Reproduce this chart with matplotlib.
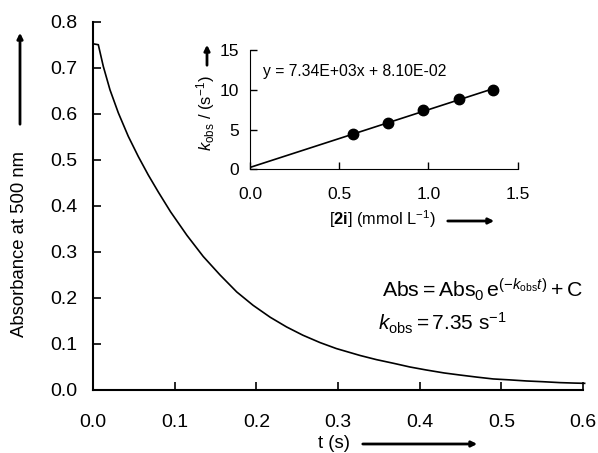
import numpy as np
import matplotlib
matplotlib.use("Agg")
import matplotlib.pyplot as plt

plt.rcParams['font.family'] = ['Liberation Sans', 'DejaVu Sans']
plt.rcParams['mathtext.fontset'] = 'custom'
plt.rcParams['mathtext.rm'] = 'Liberation Sans'
plt.rcParams['mathtext.it'] = 'Liberation Sans:italic'
plt.rcParams['mathtext.bf'] = 'Liberation Sans:bold'

# decay trace
t_s = [0.000, 0.0065, 0.0126, 0.0208, 0.031, 0.0432, 0.0555, 0.0677, 0.080, 0.095,
       0.115, 0.135, 0.1555, 0.176, 0.196, 0.217, 0.237, 0.257, 0.278, 0.298,
       0.327, 0.347, 0.368, 0.388, 0.408, 0.430, 0.449, 0.470, 0.490, 0.510,
       0.531, 0.551, 0.572, 0.590, 0.602]
absorb = [0.752, 0.750, 0.703, 0.652, 0.602, 0.551, 0.507, 0.467, 0.430, 0.387,
          0.336, 0.290, 0.250, 0.213, 0.184, 0.158, 0.137, 0.119, 0.103, 0.090,
          0.075, 0.066, 0.058, 0.050, 0.0435, 0.037, 0.0326, 0.028, 0.024, 0.022,
          0.0196, 0.018, 0.016, 0.015, 0.0145]

# inset: k_obs vs [2i]
conc = [0.579, 0.775, 0.968, 1.173, 1.360]
kobs = [4.40, 5.78, 7.46, 8.80, 10.01]

W, H = 598, 453
fig = plt.figure(figsize=(W / 100, H / 100), dpi=100)

def fx(px):
    return px / W

def fy(py):
    return 1 - py / H

ax = fig.add_axes([fx(93), fy(390), fx(583) - fx(93), fy(21.7) - fy(390)])
ax.plot(t_s, absorb, color='black', lw=1.2, clip_on=False)
ax.set_xlim(0, 0.6)
ax.set_ylim(0, 0.8)
ax.set_xticks(np.arange(0, 0.61, 0.1))
ax.set_yticks(np.arange(0, 0.81, 0.1))
ax.xaxis.set_major_formatter(plt.FormatStrFormatter('%.1f'))
ax.yaxis.set_major_formatter(plt.FormatStrFormatter('%.1f'))
ax.tick_params(direction='in', length=6, width=1.2, labelsize=14)
ax.tick_params(axis='x', pad=17)
ax.tick_params(axis='y', pad=11)
for s in ['top', 'right']:
    ax.spines[s].set_visible(False)
for s in ['left', 'bottom']:
    ax.spines[s].set_linewidth(1.5)

fig.text(fx(20), fy(244), 'Absorbance at 500 nm', rotation=90, ha='center',
         va='center', fontsize=13.3)
fig.text(fx(334), fy(443), 't (s)', ha='center', va='center', fontsize=13.3)
arrow = dict(arrowstyle='-|>', color='black', lw=2, mutation_scale=8)
fig.add_artist(matplotlib.patches.FancyArrowPatch(
    (fx(20), fy(127)), (fx(20), fy(30)), transform=fig.transFigure, **arrow))
fig.add_artist(matplotlib.patches.FancyArrowPatch(
    (fx(360), fy(444)), (fx(480), fy(444)), transform=fig.transFigure, **arrow))

fig.text(fx(382), fy(290), r'$\mathrm{Abs} = \mathrm{Abs}_0\,\mathrm{e}^{(-k_\mathrm{obs}t)} + \mathrm{C}$',
         ha='left', va='center', fontsize=15.3)
fig.text(fx(378), fy(323), r'$k_\mathrm{obs} = 7.35\ \mathrm{s}^{-1}$',
         ha='left', va='center', fontsize=15)

# inset
ins = fig.add_axes([fx(250), fy(169.3), fx(517.7) - fx(250), fy(50) - fy(169.3)])
slope, icpt = np.polyfit(conc, kobs, 1)
xl = np.array([0, conc[-1]])
ins.plot(xl, slope * xl + icpt, color='black', lw=1.2)
ins.plot(conc, kobs, 'o', color='black', ms=7.5)
ins.set_xlim(0, 1.5)
ins.set_ylim(0, 15)
ins.set_xticks([0, 0.5, 1.0, 1.5])
ins.set_yticks([0, 5, 10, 15])
ins.xaxis.set_major_formatter(plt.FormatStrFormatter('%.1f'))
ins.tick_params(direction='in', length=5, width=1, labelsize=12.5)
ins.tick_params(axis='x', pad=13)
ins.tick_params(axis='y', pad=8)
for s in ['top', 'right']:
    ins.spines[s].set_visible(False)
ins.text(0.05, 0.82, 'y = 7.34E+03x + 8.10E-02', transform=ins.transAxes,
         ha='left', va='center', fontsize=11.3)

fig.text(fx(382), fy(219), r'[$\mathbf{2i}$] (mmol L$^{-1}$)', ha='center',
         va='center', fontsize=11.8)
fig.text(fx(206), fy(113), r'$k_\mathrm{obs}$ / (s$^{-1}$)', rotation=90,
         ha='center', va='center', fontsize=12)
fig.add_artist(matplotlib.patches.FancyArrowPatch(
    (fx(207), fy(68)), (fx(207), fy(42)), transform=fig.transFigure, **arrow))
fig.add_artist(matplotlib.patches.FancyArrowPatch(
    (fx(445), fy(221)), (fx(497), fy(221)), transform=fig.transFigure, **arrow))

fig.savefig('out.png', dpi=100)
